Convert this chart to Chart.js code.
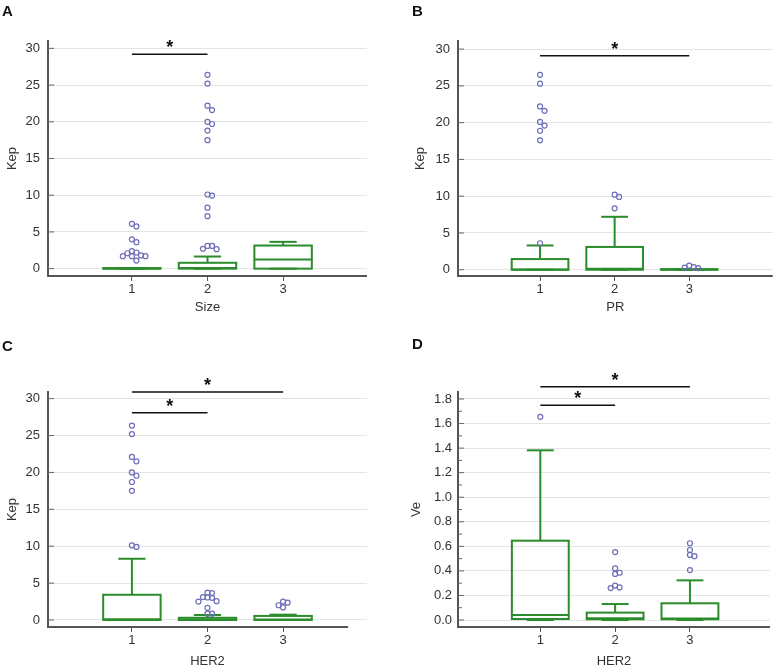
<!DOCTYPE html>
<html lang="en">
<head>
<meta charset="UTF-8">
<title>Kep and Ve by Size, PR and HER2</title>
<script src="https://cdn.jsdelivr.net/npm/chart.js"></script>
<style>
  body { margin: 0; background: #fff; }
  #page { position: relative; width: 778px; height: 668px; font-family: "Liberation Sans", Arial, sans-serif; }
  .panel { position: absolute; }
  .letter { position: absolute; font-weight: bold; font-size: 15px; line-height: 15px; color: #111; }
</style>
</head>
<body>
<div id="page">
  <canvas id="chartA" class="panel" width="389" height="330" style="left:0;top:0"></canvas>
  <canvas id="chartB" class="panel" width="389" height="330" style="left:389px;top:0"></canvas>
  <canvas id="chartC" class="panel" width="389" height="338" style="left:0;top:330px"></canvas>
  <canvas id="chartD" class="panel" width="389" height="338" style="left:389px;top:330px"></canvas>
  <div class="letter" style="left:2px;top:3px">A</div>
  <div class="letter" style="left:412px;top:3px">B</div>
  <div class="letter" style="left:2px;top:338px">C</div>
  <div class="letter" style="left:412px;top:336px">D</div>
</div>

<script>
// ---- data ----
const categories = ['1', '2', '3'];
const kepTicks = [0, 5, 10, 15, 20, 25, 30];
const veTicks = [0, 0.2, 0.4, 0.6, 0.8, 1.0, 1.2, 1.4, 1.6, 1.8];

// A: Kep by Size
const sizeLow = [0, 0, 0];
const sizeQ1 = [0, 0, 0];
const sizeMedian = [0.02, 0.1, 1.25];
const sizeQ3 = [0.08, 0.8, 3.15];
const sizeHigh = [0.08, 1.65, 3.65];
const sizeOutliers = [
  [6.1, 5.75, 4.0, 3.6, 2.4, 2.2, 2.1, 1.8, 1.7, 1.7, 1.7, 1.1],
  [26.4, 25.2, 22.2, 21.6, 20.0, 19.7, 18.8, 17.5, 10.1, 9.95, 8.3, 7.15, 3.1, 3.1, 2.7, 2.65],
  []
];
const sizeSig = [[1, 2]];

// B: Kep by PR
const prLow = [0, 0, 0];
const prQ1 = [0, 0, 0];
const prMedian = [0.05, 0.15, 0.02];
const prQ3 = [1.45, 3.1, 0.08];
const prHigh = [3.3, 7.2, 0.08];
const prOutliers = [
  [26.5, 25.3, 22.2, 21.6, 20.1, 19.6, 18.9, 17.6, 3.6],
  [10.2, 9.9, 8.35],
  [0.55, 0.35, 0.3, 0.23]
];
const prSig = [[1, 3]];

// C: Kep by HER2
const her2KepLow = [0, 0, 0];
const her2KepQ1 = [0, 0, 0];
const her2KepMedian = [0.1, 0.05, 0.05];
const her2KepQ3 = [3.42, 0.3, 0.55];
const her2KepHigh = [8.3, 0.68, 0.72];
const her2KepOutliers = [
  [26.35, 25.2, 22.1, 21.5, 20.0, 19.55, 18.7, 17.5, 10.1, 9.9],
  [3.7, 3.65, 3.1, 3.05, 3.0, 2.55, 2.5, 1.65, 0.85, 0.85],
  [2.5, 2.35, 2.0, 1.7]
];
const her2KepSig = [[1, 3], [1, 2]];

// D: Ve by HER2
const her2VeLow = [0, 0, 0];
const her2VeQ1 = [0.008, 0.006, 0.006];
const her2VeMedian = [0.04, 0.015, 0.012];
const her2VeQ3 = [0.646, 0.06, 0.136];
const her2VeHigh = [1.382, 0.13, 0.323];
const her2VeOutliers = [
  [1.655],
  [0.553, 0.42, 0.385, 0.375, 0.28, 0.265, 0.26],
  [0.625, 0.57, 0.53, 0.52, 0.407]
];
const her2VeSig = [[1, 3], [1, 2]];

// ---- drawing ----
Chart.defaults.font.family = '"Liberation Sans", Arial, sans-serif';
Chart.defaults.font.size = 13;
Chart.defaults.color = '#333';

const GREEN = '#2b8c2b';
const AXIS = '#555';

// spread overlapping outliers sideways (simple dodge)
function spread(values, yRange) {
  const thr = yRange * 0.02;
  const step = 0.06;
  const placed = [];
  return values.map(v => {
    for (let k = 0; ; k++) {
      const off = k === 0 ? 0 : (k % 2 ? 1 : -1) * Math.ceil(k / 2) * step;
      const hit = placed.some(p => Math.abs(p.v - v) < thr && Math.abs(p.off - off) < step * 0.9);
      if (!hit) { placed.push({ v, off }); return off; }
    }
  });
}

const boxPlugin = {
  id: 'boxes',
  beforeDatasetsDraw(chart, args, opts) {
    const { ctx, chartArea, scales: { x, y } } = chart;
    const s = opts.stats;
    const py = v => y.getPixelForValue(v);
    const line = (x1, y1, x2, y2) => { ctx.beginPath(); ctx.moveTo(x1, y1); ctx.lineTo(x2, y2); ctx.stroke(); };

    ctx.save();
    // x axis line
    ctx.strokeStyle = AXIS;
    ctx.lineWidth = 2;
    const end = opts.axisEnd != null ? x.getPixelForValue(opts.axisEnd) : chartArea.right;
    line(chartArea.left, chartArea.bottom, end, chartArea.bottom);

    // inner tick marks on y axis
    ctx.lineWidth = 1;
    ctx.strokeStyle = '#666';
    y.ticks.forEach((t, i) => {
      const p = py(t.value);
      line(chartArea.left, p, chartArea.left + 6, p);
      if (opts.minor && i < y.ticks.length - 1) {
        const m = py((t.value + y.ticks[i + 1].value) / 2);
        line(chartArea.left, m, chartArea.left + 4, m);
      }
    });

    // boxes
    ctx.strokeStyle = GREEN;
    ctx.lineWidth = 2;
    s.q1.forEach((q1, i) => {
      const cx = x.getPixelForValue(i + 1);
      const half = x.getPixelForValue(i + 1.38) - cx;
      const cap = x.getPixelForValue(i + 1.18) - cx;
      line(cx, py(s.q3[i]), cx, py(s.high[i]));
      line(cx - cap, py(s.high[i]), cx + cap, py(s.high[i]));
      line(cx, py(q1), cx, py(s.low[i]));
      line(cx - cap, py(s.low[i]), cx + cap, py(s.low[i]));
      ctx.strokeRect(cx - half, py(s.q3[i]), 2 * half, py(q1) - py(s.q3[i]));
      line(cx - half, py(s.median[i]), cx + half, py(s.median[i]));
    });
    ctx.restore();
  }
};

const sigPlugin = {
  id: 'sig',
  afterDraw(chart, args, opts) {
    const { ctx, scales: { x, y } } = chart;
    ctx.save();
    ctx.strokeStyle = '#111';
    ctx.fillStyle = '#111';
    ctx.lineWidth = 1.5;
    ctx.font = 'bold 18px "Liberation Sans", Arial, sans-serif';
    ctx.textAlign = 'center';
    ctx.textBaseline = 'alphabetic';
    opts.pairs.forEach(([a, b], i) => {
      const yy = y.getPixelForValue(opts.levels[i]);
      const xa = x.getPixelForValue(a), xb = x.getPixelForValue(b);
      ctx.beginPath(); ctx.moveTo(xa, yy); ctx.lineTo(xb, yy); ctx.stroke();
      ctx.fillText('*', (xa + xb) / 2, yy - 1);
    });
    ctx.restore();
  }
};

function makePanel(id, cfg) {
  const yRange = cfg.yMax - cfg.yMin;
  const points = [];
  cfg.outliers.forEach((vals, i) => {
    const offs = spread(vals, yRange);
    vals.forEach((v, k) => points.push({ x: i + 1 + offs[k], y: v }));
  });

  new Chart(document.getElementById(id), {
    type: 'scatter',
    data: {
      datasets: [{
        data: points,
        pointRadius: 2.5,
        pointBorderWidth: 1.2,
        pointBorderColor: '#6d6dba',
        pointBackgroundColor: 'rgba(255,255,255,0)'
      }]
    },
    options: {
      responsive: false,
      animation: false,
      devicePixelRatio: 1,
      layout: { padding: { top: cfg.padTop, right: cfg.padRight, left: 0, bottom: 0 } },
      plugins: {
        legend: { display: false },
        tooltip: { enabled: false },
        boxes: { stats: cfg.stats, axisEnd: cfg.axisEnd, minor: cfg.minor },
        sig: { pairs: cfg.sig, levels: cfg.sigLevels }
      },
      scales: {
        x: {
          type: 'linear',
          min: cfg.xMin,
          max: cfg.xMax,
          afterBuildTicks: axis => { axis.ticks = categories.map((c, i) => ({ value: i + 1 })); },
          afterFit: scale => { scale.height = cfg.xHeight; },
          ticks: { callback: v => categories[Math.round(v) - 1], padding: 1, color: '#333', maxRotation: 0 },
          grid: { drawOnChartArea: false, drawTicks: true, tickLength: 5, tickColor: AXIS, color: AXIS },
          border: { display: false },
          title: { display: true, text: cfg.xTitle, color: '#333', font: { size: 13, lineHeight: 1 }, padding: { top: 0, bottom: cfg.xTitlePad } }
        },
        y: {
          min: cfg.yMin,
          max: cfg.yMax,
          afterBuildTicks: axis => { axis.ticks = cfg.yTicks.map(v => ({ value: v })); },
          afterFit: scale => { scale.width = cfg.yWidth; },
          ticks: { callback: cfg.yFormat, padding: cfg.yPad, color: '#333', autoSkip: false },
          grid: { color: '#e4e4e4', lineWidth: 1, drawTicks: false },
          border: { display: true, color: AXIS, width: 2 },
          title: { display: true, text: cfg.yTitle, color: '#333', font: { size: 13, lineHeight: 1 }, padding: { top: cfg.yTitlePad, bottom: 0 } }
        }
      }
    },
    plugins: [boxPlugin, sigPlugin]
  });
}

makePanel('chartA', {
  stats: { low: sizeLow, q1: sizeQ1, median: sizeMedian, q3: sizeQ3, high: sizeHigh },
  outliers: sizeOutliers, sig: sizeSig, sigLevels: [29.2],
  xTitle: 'Size', yTitle: 'Kep', yTicks: kepTicks, yFormat: v => String(v),
  yMin: -1, yMax: 31, xMin: -0.11, xMax: 4.11,
  padTop: 41, padRight: 22, yWidth: 48, xHeight: 54, xTitlePad: 16.5, yTitlePad: 5.5, yPad: 8
});

makePanel('chartB', {
  stats: { low: prLow, q1: prQ1, median: prMedian, q3: prQ3, high: prHigh },
  outliers: prOutliers, sig: prSig, sigLevels: [29.1],
  xTitle: 'PR', yTitle: 'Kep', yTicks: kepTicks, yFormat: v => String(v),
  yMin: -0.85, yMax: 31.1, xMin: -0.1, xMax: 4.12,
  padTop: 41, padRight: 1, yWidth: 69, xHeight: 54, xTitlePad: 16.5, yTitlePad: 24.5, yPad: 8
});

makePanel('chartC', {
  stats: { low: her2KepLow, q1: her2KepQ1, median: her2KepMedian, q3: her2KepQ3, high: her2KepHigh },
  outliers: her2KepOutliers, sig: her2KepSig, sigLevels: [30.9, 28.1],
  xTitle: 'HER2', yTitle: 'Kep', yTicks: kepTicks, yFormat: v => String(v),
  yMin: -0.95, yMax: 30.9, xMin: -0.11, xMax: 4.11, axisEnd: 3.86,
  padTop: 62, padRight: 22, yWidth: 48, xHeight: 41, xTitlePad: 0, yTitlePad: 5.5, yPad: 8
});

makePanel('chartD', {
  stats: { low: her2VeLow, q1: her2VeQ1, median: her2VeMedian, q3: her2VeQ3, high: her2VeHigh },
  outliers: her2VeOutliers, sig: her2VeSig, sigLevels: [1.90, 1.75],
  xTitle: 'HER2', yTitle: 'Ve', yTicks: veTicks, yFormat: v => v.toFixed(1), minor: true,
  yMin: -0.057, yMax: 1.857, xMin: -0.1, xMax: 4.07,
  padTop: 62, padRight: 8, yWidth: 69, xHeight: 41, xTitlePad: 0, yTitlePad: 21, yPad: 6
});
</script>
</body>
</html>
